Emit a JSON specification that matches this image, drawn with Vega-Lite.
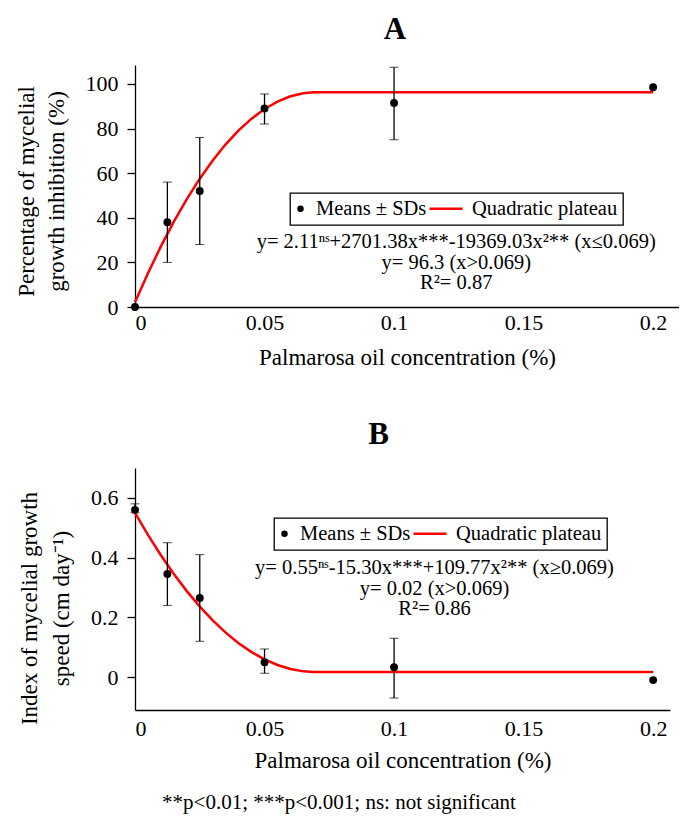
{
  "$schema": "https://vega.github.io/schema/vega-lite/v6.json",
  "background": "white",
  "padding": {"left": 15, "top": 14, "right": 0, "bottom": 2},
  "config": {
    "font": "Liberation Serif",
    "view": {"stroke": null},
    "axis": {
      "labelFont": "Liberation Serif", "titleFont": "Liberation Serif",
      "labelFontSize": 22, "titleFontSize": 23, "titleFontWeight": "normal",
      "labelColor": "black", "titleColor": "black", "domainColor": "black", "tickColor": "black",
      "grid": false, "domainWidth": 1.3, "tickWidth": 1.3
    },
    "legend": {
      "orient": "none", "direction": "horizontal", "title": null, "gridAlign": "none",
      "strokeColor": "black", "strokeWidth": 1.3, "padding": 5.5, "fillColor": "white",
      "labelFont": "Liberation Serif", "labelFontSize": 20.5, "labelColor": "black",
      "columnPadding": -2, "labelOffset": 0, "symbolSize": 40, "symbolStrokeWidth": 0
    }
  },
  "title": {"text": "**p<0.01; ***p<0.001; ns: not significant", "orient": "bottom", "anchor": "middle", "font": "Liberation Serif", "fontSize": 21, "fontWeight": "normal", "color": "black", "offset": 20, "dx": -8},
  "spacing": 50,
  "resolve": {"scale": {"color": "independent", "x": "independent", "y": "independent"}, "legend": {"color": "independent"}},
  "vconcat": [
    {
      "title": {"text": "A", "font": "Liberation Serif", "fontSize": 31, "fontWeight": "bold", "color": "black", "offset": 19, "anchor": "middle", "dx": -12},
      "width": 544, "height": 242,
      "layer": [
        {
          "data": {"values": [
            {"x": 0, "y": 2.11, "series": "Quadratic plateau"},
            {"x": 0.005, "y": 15.13, "series": "Quadratic plateau"},
            {"x": 0.01, "y": 27.19, "series": "Quadratic plateau"},
            {"x": 0.015, "y": 38.27, "series": "Quadratic plateau"},
            {"x": 0.02, "y": 48.39, "series": "Quadratic plateau"},
            {"x": 0.025, "y": 57.54, "series": "Quadratic plateau"},
            {"x": 0.03, "y": 65.72, "series": "Quadratic plateau"},
            {"x": 0.035, "y": 72.93, "series": "Quadratic plateau"},
            {"x": 0.04, "y": 79.18, "series": "Quadratic plateau"},
            {"x": 0.045, "y": 84.45, "series": "Quadratic plateau"},
            {"x": 0.05, "y": 88.76, "series": "Quadratic plateau"},
            {"x": 0.055, "y": 92.09, "series": "Quadratic plateau"},
            {"x": 0.06, "y": 94.46, "series": "Quadratic plateau"},
            {"x": 0.065, "y": 95.87, "series": "Quadratic plateau"},
            {"x": 0.069, "y": 96.3, "series": "Quadratic plateau"},
            {"x": 0.2, "y": 96.3, "series": "Quadratic plateau"}
          ]},
          "mark": {"type": "line", "strokeWidth": 2.5},
          "encoding": {
            "x": {"field": "x", "type": "quantitative", "scale": {"domain": [0, 0.21], "nice": false, "zero": false},
              "title": "Palmarosa oil concentration (%)",
              "axis": {"values": [0, 0.05, 0.1, 0.15, 0.2], "format": "~g", "ticks": false, "labelPadding": 5, "titlePadding": 13}},
            "y": {"field": "y", "type": "quantitative", "scale": {"domain": [0, 108.5], "nice": false},
              "title": ["Percentage of mycelial", "growth inhibition (%)"],
              "axis": {"values": [0, 20, 40, 60, 80, 100], "tickSize": 8, "labelPadding": 9, "titlePadding": 17, "titleLineHeight": 30, "titleY": 126}},
            "color": {"field": "series", "type": "nominal",
              "scale": {"domain": ["Means ± SDs", "Quadratic plateau"], "range": ["black", "red"]},
              "legend": {"legendX": 155, "legendY": 128,
                "encode": {"symbols": {"update": {
                  "shape": {"signal": "datum.value === 'Quadratic plateau' ? 'stroke' : 'circle'"},
                  "size": {"signal": "datum.value === 'Quadratic plateau' ? 1089 : 42"},
                  "x": {"signal": "datum.value === 'Quadratic plateau' ? -5.5 : 5"},
                  "stroke": {"signal": "datum.value === 'Quadratic plateau' ? 'red' : 'black'"},
                  "fill": {"signal": "datum.value === 'Quadratic plateau' ? 'transparent' : 'black'"},
                  "strokeWidth": {"signal": "datum.value === 'Quadratic plateau' ? 2.5 : 0"},
                  "opacity": {"value": 1}
                }}}}}
          }
        },
        {
          "data": {"values": [
            {"x": 0, "mean": 0, "lo": null, "hi": null, "series": "Means ± SDs"},
            {"x": 0.0125, "mean": 38, "lo": 20, "hi": 56, "series": "Means ± SDs"},
            {"x": 0.025, "mean": 52, "lo": 28, "hi": 76, "series": "Means ± SDs"},
            {"x": 0.05, "mean": 89, "lo": 82, "hi": 95.5, "series": "Means ± SDs"},
            {"x": 0.1, "mean": 91.5, "lo": 75, "hi": 107.5, "series": "Means ± SDs"},
            {"x": 0.2, "mean": 98.5, "lo": null, "hi": null, "series": "Means ± SDs"}
          ]},
          "layer": [
            {
              "mark": {"type": "errorbar", "ticks": {"size": 9}, "color": "black", "rule": {"strokeWidth": 1.3}},
              "encoding": {
                "x": {"field": "x", "type": "quantitative", "title": "Palmarosa oil concentration (%)"},
                "y": {"field": "lo", "type": "quantitative", "title": ["Percentage of mycelial", "growth inhibition (%)"]},
                "y2": {"field": "hi"}
              }
            },
            {
              "mark": {"type": "point", "filled": true, "size": 62, "opacity": 1},
              "encoding": {
                "x": {"field": "x", "type": "quantitative", "title": "Palmarosa oil concentration (%)"},
                "y": {"field": "mean", "type": "quantitative", "title": ["Percentage of mycelial", "growth inhibition (%)"]},
                "color": {"field": "series", "type": "nominal"}
              }
            }
          ]
        },
        {
          "data": {"values": [{}]},
          "mark": {"type": "text", "font": "Liberation Serif", "fontSize": 20.5, "color": "black", "align": "center", "baseline": "middle", "lineHeight": 20.5},
          "encoding": {
            "x": {"datum": 0.124},
            "y": {"datum": 29.1},
            "text": {"value": ["y= 2.11ⁿˢ+2701.38x***-19369.03x²** (x≤0.069)", "y= 96.3 (x>0.069)", "R²= 0.87"]}
          }
        }
      ]
    },
    {
      "title": {"text": "B", "font": "Liberation Serif", "fontSize": 31, "fontWeight": "bold", "color": "black", "offset": 17, "anchor": "middle", "dx": -24},
      "width": 535, "height": 242,
      "layer": [
        {
          "data": {"values": [
            {"x": 0, "y": 0.55, "series": "Quadratic plateau"},
            {"x": 0.005, "y": 0.4762, "series": "Quadratic plateau"},
            {"x": 0.01, "y": 0.408, "series": "Quadratic plateau"},
            {"x": 0.015, "y": 0.3452, "series": "Quadratic plateau"},
            {"x": 0.02, "y": 0.2879, "series": "Quadratic plateau"},
            {"x": 0.025, "y": 0.2361, "series": "Quadratic plateau"},
            {"x": 0.03, "y": 0.1898, "series": "Quadratic plateau"},
            {"x": 0.035, "y": 0.149, "series": "Quadratic plateau"},
            {"x": 0.04, "y": 0.1136, "series": "Quadratic plateau"},
            {"x": 0.045, "y": 0.0838, "series": "Quadratic plateau"},
            {"x": 0.05, "y": 0.0594, "series": "Quadratic plateau"},
            {"x": 0.055, "y": 0.0406, "series": "Quadratic plateau"},
            {"x": 0.06, "y": 0.0272, "series": "Quadratic plateau"},
            {"x": 0.065, "y": 0.0193, "series": "Quadratic plateau"},
            {"x": 0.069, "y": 0.017, "series": "Quadratic plateau"},
            {"x": 0.2, "y": 0.017, "series": "Quadratic plateau"}
          ]},
          "mark": {"type": "line", "strokeWidth": 2.5},
          "encoding": {
            "x": {"field": "x", "type": "quantitative", "scale": {"domain": [0, 0.2065], "nice": false, "zero": false},
              "title": "Palmarosa oil concentration (%)",
              "axis": {"values": [0, 0.05, 0.1, 0.15, 0.2], "format": "~g", "ticks": false, "labelPadding": 8, "titlePadding": 10}},
            "y": {"field": "y", "type": "quantitative", "scale": {"domain": [-0.11, 0.7], "nice": false, "zero": false},
              "title": ["Index of mycelial growth", "speed (cm day⁻¹)"],
              "axis": {"values": [0, 0.2, 0.4, 0.6], "format": "~g", "tickSize": 8, "labelPadding": 9, "titlePadding": 17, "titleLineHeight": 32, "titleY": 140}},
            "color": {"field": "series", "type": "nominal",
              "scale": {"domain": ["Means ± SDs", "Quadratic plateau"], "range": ["black", "red"]},
              "legend": {"legendX": 139, "legendY": 50,
                "encode": {"symbols": {"update": {
                  "shape": {"signal": "datum.value === 'Quadratic plateau' ? 'stroke' : 'circle'"},
                  "size": {"signal": "datum.value === 'Quadratic plateau' ? 1089 : 42"},
                  "x": {"signal": "datum.value === 'Quadratic plateau' ? -5.5 : 5"},
                  "stroke": {"signal": "datum.value === 'Quadratic plateau' ? 'red' : 'black'"},
                  "fill": {"signal": "datum.value === 'Quadratic plateau' ? 'transparent' : 'black'"},
                  "strokeWidth": {"signal": "datum.value === 'Quadratic plateau' ? 2.5 : 0"},
                  "opacity": {"value": 1}
                }}}}}
          }
        },
        {
          "data": {"values": [
            {"x": 0, "mean": 0.56, "lo": 0.55, "hi": 0.58, "series": "Means ± SDs"},
            {"x": 0.0125, "mean": 0.345, "lo": 0.24, "hi": 0.45, "series": "Means ± SDs"},
            {"x": 0.025, "mean": 0.265, "lo": 0.12, "hi": 0.41, "series": "Means ± SDs"},
            {"x": 0.05, "mean": 0.05, "lo": 0.013, "hi": 0.094, "series": "Means ± SDs"},
            {"x": 0.1, "mean": 0.033, "lo": -0.07, "hi": 0.13, "series": "Means ± SDs"},
            {"x": 0.2, "mean": -0.01, "lo": null, "hi": null, "series": "Means ± SDs"}
          ]},
          "layer": [
            {
              "mark": {"type": "errorbar", "ticks": {"size": 9}, "color": "black", "rule": {"strokeWidth": 1.3}},
              "encoding": {
                "x": {"field": "x", "type": "quantitative", "title": "Palmarosa oil concentration (%)"},
                "y": {"field": "lo", "type": "quantitative", "title": ["Index of mycelial growth", "speed (cm day⁻¹)"]},
                "y2": {"field": "hi"}
              }
            },
            {
              "mark": {"type": "point", "filled": true, "size": 62, "opacity": 1},
              "encoding": {
                "x": {"field": "x", "type": "quantitative", "title": "Palmarosa oil concentration (%)"},
                "y": {"field": "mean", "type": "quantitative", "title": ["Index of mycelial growth", "speed (cm day⁻¹)"]},
                "color": {"field": "series", "type": "nominal"}
              }
            }
          ]
        },
        {
          "data": {"values": [{}]},
          "mark": {"type": "text", "font": "Liberation Serif", "fontSize": 20.5, "color": "black", "align": "center", "baseline": "middle", "lineHeight": 20.5},
          "encoding": {
            "x": {"datum": 0.1156},
            "y": {"datum": 0.365},
            "text": {"value": ["y= 0.55ⁿˢ-15.30x***+109.77x²** (x≥0.069)", "y= 0.02 (x>0.069)", "R²= 0.86"]}
          }
        }
      ]
    }
  ]
}
